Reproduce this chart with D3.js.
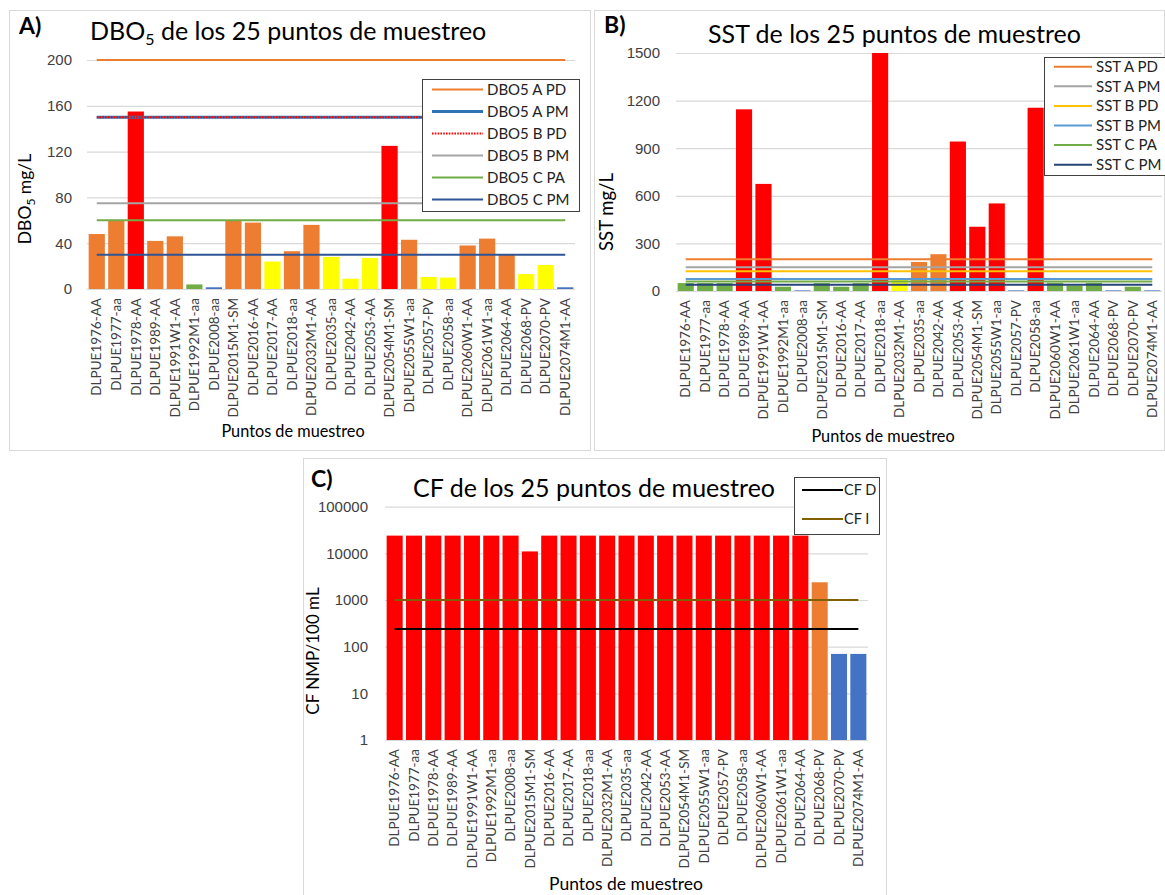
<!DOCTYPE html>
<html>
<head>
<meta charset="utf-8">
<script src="https://cdn.jsdelivr.net/npm/d3@7"></script>
<style>
  body { margin: 0; background: #fff; }
  svg { display: block; font-family: Lato, "Open Sans", sans-serif; }
</style>
</head>
<body>
<svg id="fig" width="1165" height="895"></svg>
<script>
// puntos de muestreo (mismo orden en los tres paneles)
const puntos = ["DLPUE1976-AA", "DLPUE1977-aa", "DLPUE1978-AA", "DLPUE1989-AA", "DLPUE1991W1-AA",
  "DLPUE1992M1-aa", "DLPUE2008-aa", "DLPUE2015M1-SM", "DLPUE2016-AA", "DLPUE2017-AA",
  "DLPUE2018-aa", "DLPUE2032M1-AA", "DLPUE2035-aa", "DLPUE2042-AA", "DLPUE2053-AA",
  "DLPUE2054M1-SM", "DLPUE2055W1-aa", "DLPUE2057-PV", "DLPUE2058-aa", "DLPUE2060W1-AA",
  "DLPUE2061W1-aa", "DLPUE2064-AA", "DLPUE2068-PV", "DLPUE2070-PV", "DLPUE2074M1-AA"];

// A) DBO5
const dboValores = [48, 60, 155, 42, 46, 4, 1.5, 60, 58, 24, 33, 56, 28, 9, 27, 125, 43, 10.5, 10, 38, 44, 30, 13, 21, 1.5];
const dboClase = ["naranja", "naranja", "rojo", "naranja", "naranja", "verde", "azul", "naranja", "naranja", "amarillo",
  "naranja", "naranja", "amarillo", "amarillo", "amarillo", "rojo", "naranja", "amarillo", "amarillo", "naranja",
  "naranja", "naranja", "amarillo", "amarillo", "azul"];
const dboLimNombres = ["DBO5 A PD", "DBO5 A PM", "DBO5 B PD", "DBO5 B PM", "DBO5 C PA", "DBO5 C PM"];
const dboLimValores = [200, 150, 150, 75, 60, 30];
const dboTicks = [0, 40, 80, 120, 160, 200];

// B) SST
const sstValores = [50, 50, 50, 1145, 675, 27, 4, 50, 27, 50, 1500, 70, 183, 232, 942, 405, 552, 4, 1155, 52, 34, 52, 4, 27, 4];
const sstClase = ["verde", "verde", "verde", "rojo", "rojo", "verde", "azul", "verde", "verde", "verde",
  "rojo", "amarillo", "naranja", "naranja", "rojo", "rojo", "rojo", "azul", "rojo", "verde",
  "verde", "verde", "azul", "verde", "azul"];
const sstLimNombres = ["SST A PD", "SST A PM", "SST B PD", "SST B PM", "SST C PA", "SST C PM"];
const sstLimValores = [200, 150, 125, 75, 60, 40];
const sstTicks = [0, 300, 600, 900, 1200, 1500];

// C) CF
const cfValores = [24000, 24000, 24000, 24000, 24000, 24000, 24000, 11000, 24000, 24000,
  24000, 24000, 24000, 24000, 24000, 24000, 24000, 24000, 24000, 24000,
  24000, 24000, 2400, 70, 70];
const cfClase = ["rojo", "rojo", "rojo", "rojo", "rojo", "rojo", "rojo", "rojo", "rojo", "rojo",
  "rojo", "rojo", "rojo", "rojo", "rojo", "rojo", "rojo", "rojo", "rojo", "rojo",
  "rojo", "rojo", "naranja", "azul", "azul"];
const cfLimNombres = ["CF D", "CF I"];
const cfLimValores = [240, 1000];
const cfTicks = [1, 10, 100, 1000, 10000, 100000];

const colorBarra = {rojo: "#FF0000", naranja: "#ED7D31", amarillo: "#FFFF00", verde: "#70AD47", azul: "#4472C4"};

const svg = d3.select("#fig");
svg.append("rect").attr("width", 1165).attr("height", 895).attr("fill", "#fff");

function panel(cfg) {
  const g = svg.append("g");

  g.append("rect")
    .attr("x", cfg.box[0] + 0.5).attr("y", cfg.box[1] + 0.5)
    .attr("width", cfg.box[2] - cfg.box[0]).attr("height", cfg.box[3] - cfg.box[1])
    .attr("fill", "none").attr("stroke", "#D9D9D9");

  const x = d3.scaleBand().domain(puntos)
    .range([cfg.left, cfg.right])
    .paddingInner(0.17).paddingOuter(0.085);
  const y = cfg.log
    ? d3.scaleLog().domain([1, 100000]).range([cfg.bottom, cfg.top])
    : d3.scaleLinear().domain([0, cfg.ymax]).range([cfg.bottom, cfg.top]);

  // rejilla + etiquetas del eje y
  const yAxis = d3.axisLeft(y).tickValues(cfg.ticks)
    .tickSize(-(cfg.right - cfg.left)).tickPadding(cfg.tickPad)
    .tickFormat(d3.format("d"));
  const ya = g.append("g").attr("transform", `translate(${cfg.left},0)`).call(yAxis);
  ya.select(".domain").remove();
  ya.selectAll(".tick line").attr("stroke", "#D9D9D9").attr("stroke-width", 1.2);
  ya.selectAll(".tick text").attr("fill", "#404040").style("font-size", "15px");

  // barras
  g.append("g").selectAll("rect")
    .data(cfg.valores)
    .join("rect")
    .attr("x", (d, i) => x(puntos[i]))
    .attr("width", x.bandwidth())
    .attr("y", d => y(d))
    .attr("height", d => cfg.bottom - y(d))
    .attr("fill", (d, i) => colorBarra[cfg.clase[i]]);

  // lineas de limite
  const cx = i => x(puntos[i]) + x.bandwidth() / 2;
  const linea = v => d3.line()([[cx(0), y(v)], [cx(puntos.length - 1), y(v)]]);
  cfg.limValores.forEach((v, i) => {
    const st = cfg.estilos[i];
    g.append("path").attr("d", linea(v))
      .attr("fill", "none").attr("stroke", st.c).attr("stroke-width", st.w)
      .attr("stroke-dasharray", st.dash || null);
  });

  // etiquetas del eje x
  g.append("g").selectAll("text")
    .data(puntos)
    .join("text")
    .attr("transform", (d, i) => `translate(${cx(i)},${cfg.bottom + 9}) rotate(-90)`)
    .attr("text-anchor", "end").attr("dy", "0.35em")
    .attr("fill", "#404040").style("font-size", "13.5px")
    .text(d => d);

  // titulos
  g.append("text").attr("x", cfg.letra[0]).attr("y", cfg.letra[1])
    .style("font-size", "23px").style("font-weight", "bold").attr("fill", "#000")
    .text(cfg.letraTxt);
  const t = g.append("text").attr("x", cfg.titulo[0]).attr("y", cfg.titulo[1])
    .style("font-size", "25px").attr("fill", "#000");
  cfg.tituloPartes.forEach(p => {
    t.append("tspan").attr("dy", p.dy || 0).style("font-size", p.sub ? "16px" : null).text(p.t);
  });

  const yt = g.append("text")
    .attr("transform", `translate(${cfg.yTitulo[0]},${cfg.yTitulo[1]}) rotate(-90)`)
    .attr("text-anchor", "middle").attr("dy", "0.35em")
    .style("font-size", cfg.yTituloFs + "px").attr("fill", "#000");
  cfg.yTituloPartes.forEach(p => {
    yt.append("tspan").attr("dy", p.dy || 0).style("font-size", p.sub ? "12px" : null).text(p.t);
  });

  g.append("text").attr("x", cfg.xTitulo[0]).attr("y", cfg.xTitulo[1])
    .attr("text-anchor", "middle").style("font-size", cfg.xTituloFs + "px").attr("fill", "#000")
    .text("Puntos de muestreo");

  // leyenda
  const L = cfg.leyenda;
  g.append("rect").attr("x", L.box[0] + 0.5).attr("y", L.box[1] + 0.5)
    .attr("width", L.box[2] - L.box[0]).attr("height", L.box[3] - L.box[1])
    .attr("fill", "#fff").attr("stroke", "#404040").attr("stroke-width", 1);
  cfg.limNombres.forEach((n, i) => {
    const yy = L.y0 + i * L.dy;
    const st = cfg.estilos[i];
    g.append("line").attr("x1", L.x1).attr("x2", L.x2).attr("y1", yy).attr("y2", yy)
      .attr("stroke", st.c).attr("stroke-width", st.w).attr("stroke-dasharray", st.dash || null);
    g.append("text").attr("x", L.tx).attr("y", yy).attr("dy", "0.35em")
      .style("font-size", L.fs + "px").attr("fill", "#222").text(n);
  });
}

panel({
  box: [9, 10, 590, 450], left: 87, right: 575, top: 60, bottom: 289, ymax: 200,
  ticks: dboTicks, tickPad: 15, valores: dboValores, clase: dboClase,
  limValores: dboLimValores, limNombres: dboLimNombres,
  estilos: [{c: "#ED7D31", w: 2}, {c: "#2E75B6", w: 3}, {c: "#FF0000", w: 2.2, dash: "1.6 1.2"},
            {c: "#A5A5A5", w: 2}, {c: "#70AD47", w: 2}, {c: "#2F5597", w: 2}],
  letraTxt: "A)", letra: [19, 34],
  titulo: [90, 40], tituloPartes: [{t: "DBO"}, {t: "5", sub: true, dy: 5}, {t: " de los 25 puntos de muestreo", dy: -5}],
  yTitulo: [31, 199], yTituloFs: 17.5, yTituloPartes: [{t: "DBO"}, {t: "5", sub: true, dy: 4}, {t: " mg/L", dy: -4}],
  xTitulo: [293, 437], xTituloFs: 16.3,
  leyenda: {box: [422, 79, 579, 211], x1: 432, x2: 483, tx: 487, y0: 89.5, dy: 22, fs: 15}
});

panel({
  box: [594, 10, 1164, 450], left: 676, right: 1162, top: 53, bottom: 291, ymax: 1500,
  ticks: sstTicks, tickPad: 16, valores: sstValores, clase: sstClase,
  limValores: sstLimValores, limNombres: sstLimNombres,
  estilos: [{c: "#ED7D31", w: 2}, {c: "#A5A5A5", w: 2}, {c: "#FFC000", w: 2},
            {c: "#5B9BD5", w: 2}, {c: "#70AD47", w: 2}, {c: "#264478", w: 2}],
  letraTxt: "B)", letra: [604, 33],
  titulo: [708, 43], tituloPartes: [{t: "SST de los 25 puntos de muestreo"}],
  yTitulo: [613, 212], yTituloFs: 18.5, yTituloPartes: [{t: "SST mg/L"}],
  xTitulo: [883, 442], xTituloFs: 16.3,
  leyenda: {box: [1044, 57, 1170, 175], x1: 1054, x2: 1092, tx: 1096, y0: 66.7, dy: 19.6, fs: 15}
});

panel({
  box: [303, 458, 886, 895], left: 385, right: 868, top: 506.7, bottom: 740, log: true,
  ticks: cfTicks, tickPad: 17, valores: cfValores, clase: cfClase,
  limValores: cfLimValores, limNombres: cfLimNombres,
  estilos: [{c: "#000000", w: 2}, {c: "#806000", w: 2}],
  letraTxt: "C)", letra: [311, 487],
  titulo: [413, 497], tituloPartes: [{t: "CF de los 25 puntos de muestreo"}],
  yTitulo: [319, 651], yTituloFs: 17, yTituloPartes: [{t: "CF NMP/100 mL"}],
  xTitulo: [626, 890], xTituloFs: 17.5,
  leyenda: {box: [794, 477, 879, 534], x1: 802, x2: 843, tx: 844, y0: 490, dy: 29, fs: 14.5}
});
</script>
</body>
</html>
